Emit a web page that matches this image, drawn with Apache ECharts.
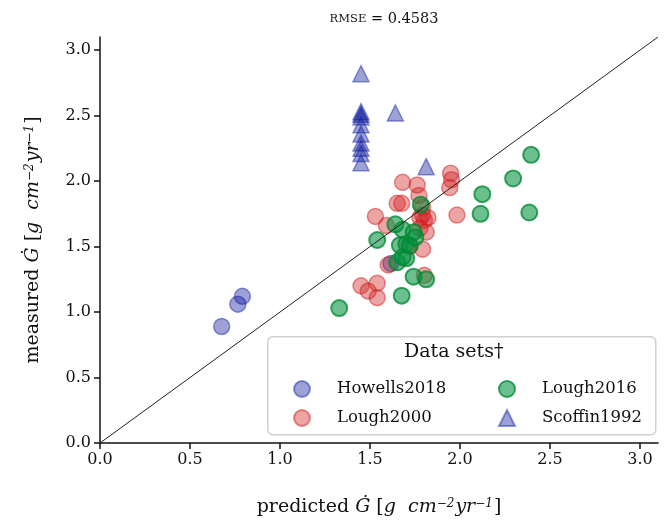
<!DOCTYPE html>
<html>
<head>
<meta charset="utf-8">
<script src="https://cdn.jsdelivr.net/npm/echarts@6/dist/echarts.min.js"></script>
<style>
html, body { margin: 0; padding: 0; background: #fff; }
#chart { width: 671px; height: 524px; }
</style>
</head>
<body>
<div id="chart"></div>
<script>
// data: [predicted, measured]
var howells2018 = [[0.676, 0.89], [0.766, 1.06], [0.791, 1.12], [1.616, 1.37]];
var lough2000 = [
    [1.948, 2.06], [1.953, 2.01], [1.943, 1.95], [1.983, 1.74],
    [1.681, 1.99], [1.762, 1.97], [1.772, 1.89], [1.651, 1.83], [1.676, 1.83], [1.792, 1.80],
    [1.530, 1.73], [1.777, 1.72], [1.802, 1.70], [1.822, 1.72], [1.792, 1.74], [1.591, 1.66],
    [1.777, 1.64], [1.812, 1.61], [1.792, 1.48], [1.721, 1.50], [1.601, 1.36],
    [1.450, 1.20], [1.490, 1.16], [1.540, 1.22], [1.540, 1.11], [1.802, 1.28]
];
var lough2016 = [
    [1.329, 1.03], [1.676, 1.125], [1.742, 1.27], [1.812, 1.25], [1.651, 1.38], [1.701, 1.41],
    [1.681, 1.42], [1.666, 1.51], [1.701, 1.52], [1.721, 1.51], [1.540, 1.55], [1.752, 1.57],
    [1.681, 1.63], [1.742, 1.61], [1.641, 1.67], [1.782, 1.82], [2.114, 1.75], [2.124, 1.90],
    [2.295, 2.02], [2.395, 2.20], [2.385, 1.76]
];
var scoffin1992 = [
    [1.45, 2.82], [1.45, 2.53], [1.45, 2.51], [1.45, 2.49], [1.45, 2.43], [1.45, 2.36],
    [1.45, 2.29], [1.45, 2.25], [1.45, 2.21], [1.45, 2.14], [1.641, 2.52], [1.812, 2.11]
];
var axisMax = 3.1;
var tickValues = [0, 0.5, 1, 1.5, 2, 2.5, 3];
var rmse = '0.4583';

var serif = 'DejaVu Serif';
var black = '#111';

function axisCommon() {
    return {
        type: 'value',
        min: 0,
        max: axisMax,
        interval: 0.5,
        splitLine: { show: false },
        axisLine: { show: true, lineStyle: { color: black, width: 1.5 } },
        axisTick: {
            show: true, inside: false, length: 6, customValues: tickValues,
            lineStyle: { color: black, width: 1.5 }
        },
        axisLabel: {
            customValues: tickValues,
            color: black, fontFamily: serif, fontSize: 16, margin: 9,
            formatter: function (v) { return v.toFixed(1); }
        },
        nameLocation: 'middle',
        nameTextStyle: {
            color: black, fontFamily: serif, fontSize: 19,
            rich: {
                it: { fontStyle: 'italic', fontFamily: serif, fontSize: 19, color: black },
                sup: { fontStyle: 'italic', fontFamily: serif, fontSize: 12, color: black, verticalAlign: 'top', padding: [0, 1, 0, 0] }
            }
        }
    };
}

var axisUnit = ' [{it|g  cm}{sup|−2}{it|yr}{sup|−1}]';

var xAxis = axisCommon();
xAxis.name = 'predicted {it|Ġ}' + axisUnit;
xAxis.nameGap = 55;

var yAxis = axisCommon();
yAxis.name = 'measured {it|Ġ}' + axisUnit;
yAxis.nameGap = 57;

var chart = echarts.init(document.getElementById('chart'));
chart.setOption({
    animation: false,
    backgroundColor: '#fff',
    title: {
        text: '{sc|RMSE} = ' + rmse,
        left: 379,
        textAlign: 'center',
        top: 7,
        textStyle: {
            color: black, fontFamily: serif, fontSize: 14.5, fontWeight: 'normal',
            rich: { sc: { fontFamily: serif, fontSize: 11.5, color: black } }
        }
    },
    grid: { left: 100, right: 13, top: 37, bottom: 81, containLabel: false },
    xAxis: xAxis,
    yAxis: yAxis,
    // legend box + its title
    graphic: [
        {
            type: 'rect', left: 267, top: 336, z: 3,
            shape: { width: 388, height: 98, r: 5 },
            style: { fill: 'rgba(255,255,255,0.85)', stroke: '#d0d0d0', lineWidth: 1.5 }
        },
        {
            type: 'text', left: 404, top: 343, z: 4,
            style: { text: 'Data sets†', fill: black, font: '19px "DejaVu Serif"' }
        }
    ],
    legend: [
        {
            orient: 'vertical', left: 288, top: 375, itemGap: 11,
            itemWidth: 16, itemHeight: 16, z: 5,
            textStyle: { fontFamily: serif, fontSize: 16.5, color: black, padding: [0, 0, 0, 22] },
            data: ['Howells2018', 'Lough2000']
        },
        {
            orient: 'vertical', left: 493, top: 375, itemGap: 11,
            itemWidth: 16, itemHeight: 16, z: 5,
            textStyle: { fontFamily: serif, fontSize: 16.5, color: black, padding: [0, 0, 0, 22] },
            data: ['Lough2016', 'Scoffin1992']
        }
    ],
    series: [
        {
            name: 'Howells2018', type: 'scatter', symbol: 'circle', symbolSize: 16, data: howells2018,
            itemStyle: { color: 'rgba(10,20,150,0.5)', borderColor: 'rgba(20,40,170,0.6)', borderWidth: 1.5 }
        },
        {
            name: 'Lough2000', type: 'scatter', symbol: 'circle', symbolSize: 16, data: lough2000,
            itemStyle: { color: 'rgba(210,35,35,0.52)', borderColor: 'rgba(205,30,30,0.6)', borderWidth: 1.5 }
        },
        {
            name: 'Lough2016', type: 'scatter', symbol: 'circle', symbolSize: 16, data: lough2016,
            itemStyle: { color: 'rgba(0,145,60,0.72)', borderColor: 'rgba(0,135,50,0.95)', borderWidth: 2 }
        },
        {
            name: 'Scoffin1992', type: 'scatter', symbol: 'triangle', symbolSize: 16, data: scoffin1992,
            itemStyle: { color: 'rgba(10,20,150,0.5)', borderColor: 'rgba(20,40,170,0.6)', borderWidth: 1.5 }
        },
        {
            // 1:1 line
            name: 'identity', type: 'line', data: [[0, 0], [axisMax, axisMax]],
            symbol: 'none', silent: true,
            lineStyle: { color: '#222', width: 1 }
        }
    ]
});
</script>
</body>
</html>
